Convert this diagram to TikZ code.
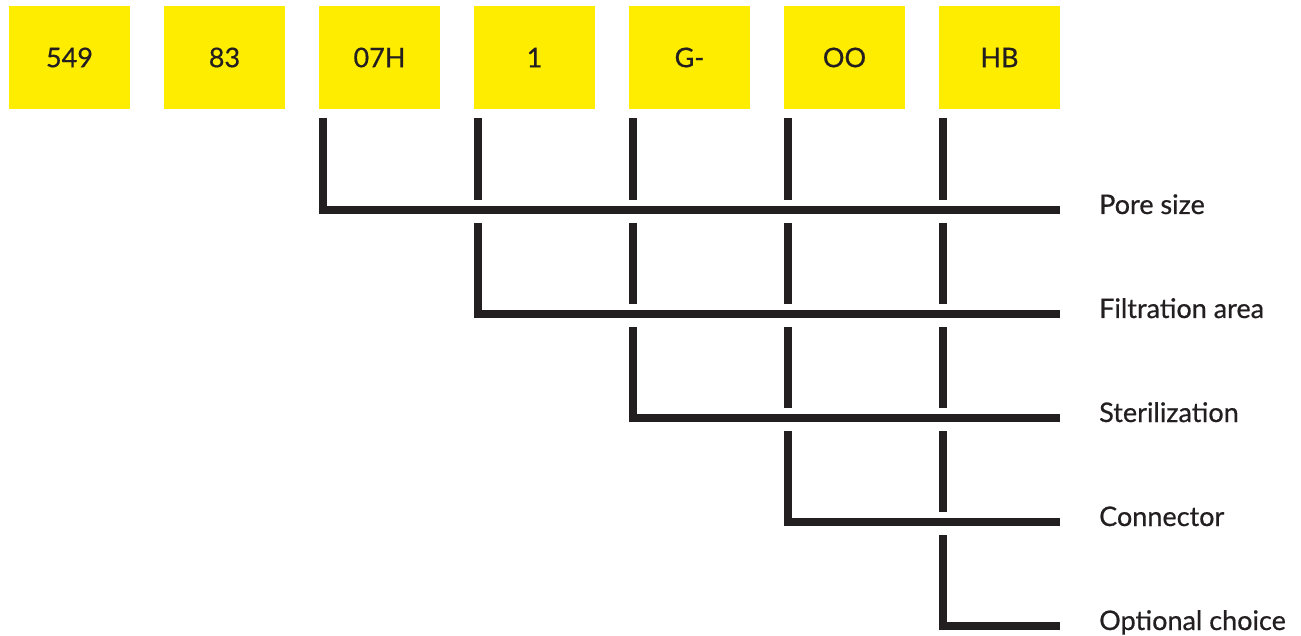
\documentclass[tikz,border=0pt]{standalone}
\usepackage{fontspec}
\setmainfont{Lato}[FakeBold=0.6]
\definecolor{codeyellow}{HTML}{FFED00}
\definecolor{inkdark}{HTML}{231F20}
\begin{document}
\begin{tikzpicture}[x=1pt,y=1pt,
  codebox/.style={fill=codeyellow, minimum width=121pt, minimum height=103pt, inner sep=0pt, text=inkdark, font=\fontsize{27}{32}\selectfont},
  lbl/.style={anchor=base west, inner sep=0pt, text=inkdark, font=\fontsize{27}{32}\selectfont},
  bar/.style={draw=inkdark, line width=8pt, line cap=butt, line join=miter}
]
\useasboundingbox (0,0) rectangle (1301,-636);
% code boxes
\node[codebox] (b1) at (69.5,-57.5) {549};
\node[codebox] (b2) at (224.5,-57.5) {83};
\node[codebox] (b3) at (379.5,-57.5) {07H};
\node[codebox] (b4) at (534.5,-57.5) {1};
\node[codebox] (b5) at (689.5,-57.5) {G-};
\node[codebox] (b6) at (844.5,-57.5) {OO};
\node[codebox] (b7) at (999.5,-57.5) {HB};
% labels
\node[lbl] (l1) at (1099,-214) {Pore size};
\node[lbl] (l2) at (1099,-318) {Filtration area};
\node[lbl] (l3) at (1099,-422) {Sterilization};
\node[lbl] (l4) at (1099,-526) {Connector};
\node[lbl] (l5) at (1099,-630) {Optional choice};
% line end coordinates
\coordinate (e1) at (1060,-210);
\coordinate (e2) at (1060,-314);
\coordinate (e3) at (1060,-418);
\coordinate (e4) at (1060,-522);
\coordinate (e5) at (1060,-626);
% corners: vertical x = box west + 4
\foreach \b/\e/\s in {b3/e1/-118, b4/e2/-223, b5/e3/-327, b6/e4/-431, b7/e5/-535}{
  \draw[bar] ([xshift=4pt]\b.west |- 0,\s) -- ([xshift=4pt]\b.west |- \e) -- (\e);
}
% vertical segments crossing upper lines
\foreach \b in {b4,b5,b6,b7}{
  \draw[bar] ([xshift=4pt]\b.west |- 0,-118) -- ([xshift=4pt]\b.west |- 0,-200);
}
\foreach \b in {b5,b6,b7}{
  \draw[bar] ([xshift=4pt]\b.west |- 0,-223) -- ([xshift=4pt]\b.west |- 0,-304);
}
\foreach \b in {b6,b7}{
  \draw[bar] ([xshift=4pt]\b.west |- 0,-327) -- ([xshift=4pt]\b.west |- 0,-408);
}
\foreach \b in {b7}{
  \draw[bar] ([xshift=4pt]\b.west |- 0,-431) -- ([xshift=4pt]\b.west |- 0,-512);
}
\end{tikzpicture}
\end{document}
